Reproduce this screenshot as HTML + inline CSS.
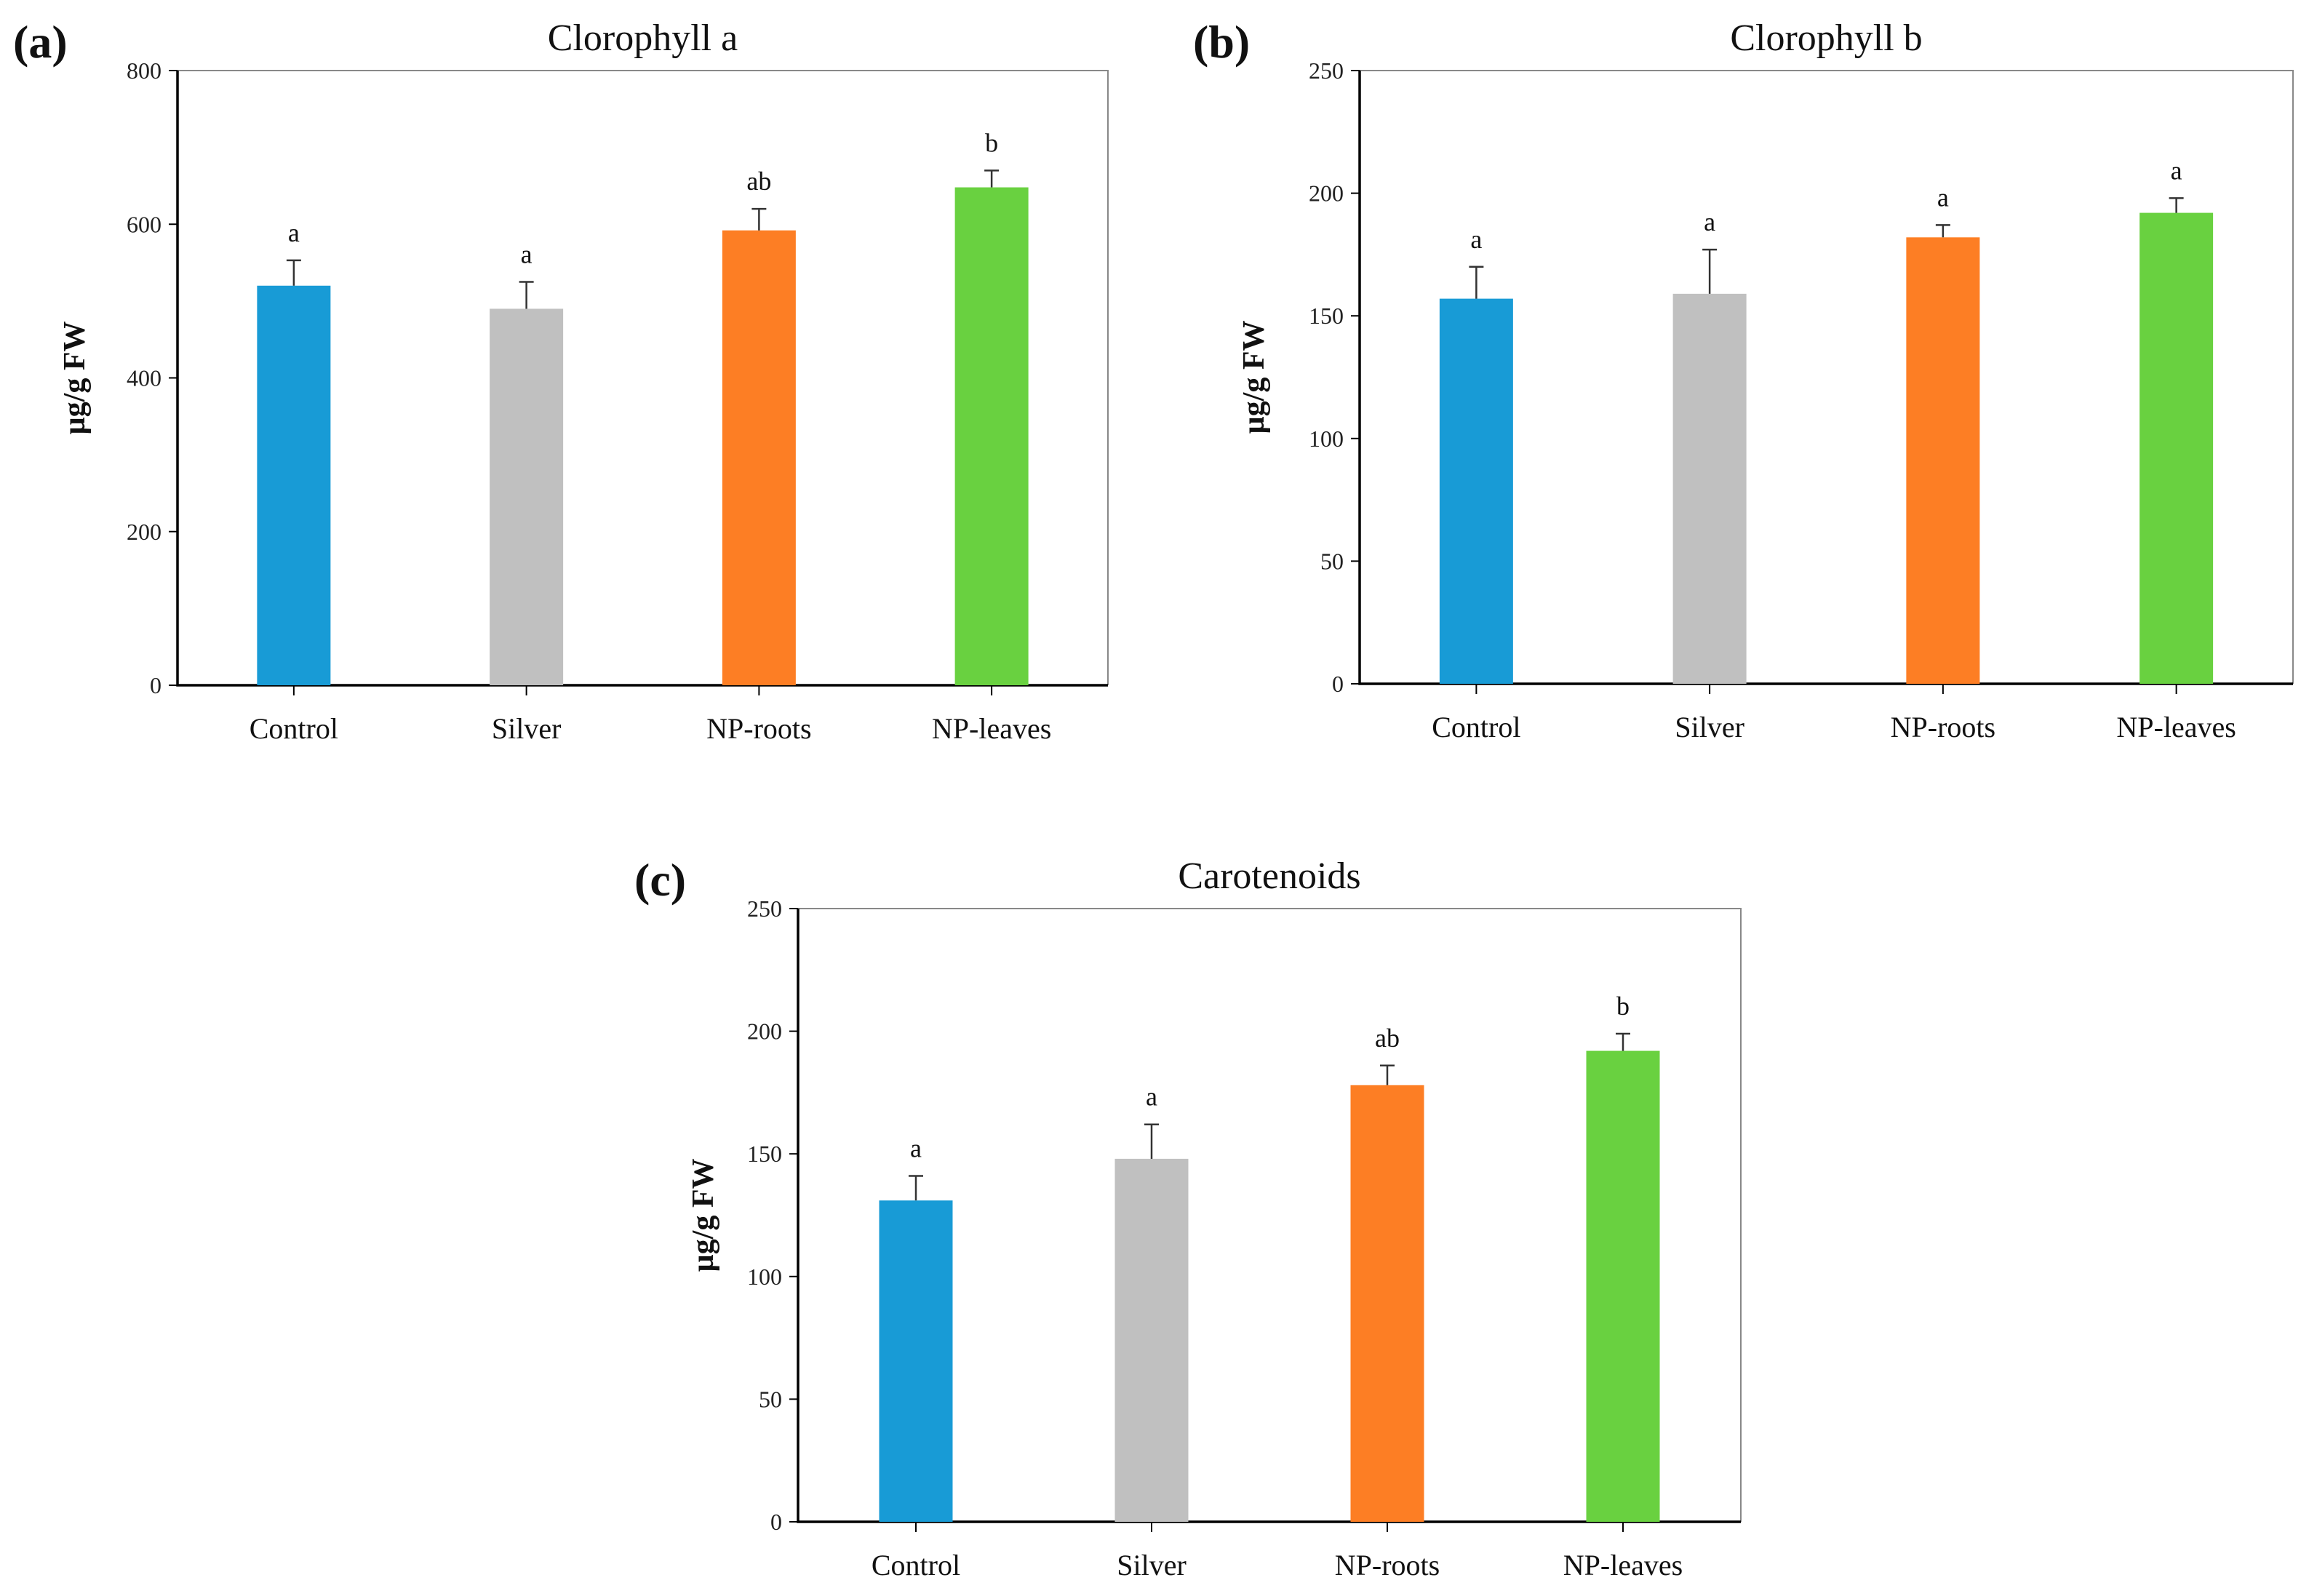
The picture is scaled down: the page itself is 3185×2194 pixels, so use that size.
<!DOCTYPE html>
<html><head><meta charset="utf-8"><style>
html,body{margin:0;padding:0;background:#fff;}
svg{display:block;font-family:"Liberation Serif",serif;}
</style></head><body>
<svg id="fig" width="3185" height="2194" viewBox="0 0 3185 2194" xmlns="http://www.w3.org/2000/svg"></svg>
<script>
const categories = ["Control","Silver","NP-roots","NP-leaves"];
const chlAValues = [520, 490, 592, 648];
const chlAErrors = [33, 35, 28, 22];
const chlALetters = ["a","a","ab","b"];
const chlATicks = [0,200,400,600,800];
const chlBValues = [157, 159, 182, 192];
const chlBErrors = [13, 18, 5, 6];
const chlBLetters = ["a","a","a","a"];
const chlBTicks = [0,50,100,150,200,250];
const carValues = [131, 148, 178, 192];
const carErrors = [10, 14, 8, 7];
const carLetters = ["a","a","ab","b"];
const carTicks = [0,50,100,150,200,250];
const colors = ["#189bd6","#c0c0c0","#fd7e24","#69d140"];

const NS="http://www.w3.org/2000/svg";
const svg=document.getElementById('fig');
function mk(tag,attrs,parent){const e=document.createElementNS(NS,tag);for(const k in attrs)e.setAttribute(k,attrs[k]);(parent||svg).appendChild(e);return e;}

function panel(cfg){
  const g=mk('g',{});
  
  
  const {L,R,T,B}=cfg;
  const ymax=cfg.ticks[cfg.ticks.length-1];
  const y=v=>B-(v/ymax)*(B-T);
  const n=categories.length, step=(R-L)/n;
  const x=i=>L+step*(i+0.5);
  // frame
  const fr=mk('path',{d:`M${L},${T} H${R} V${B}`,fill:'none',stroke:'#888',"stroke-width":2},g);
  
  
  const ax=mk('path',{d:`M${L},${T} V${B} H${R}`,fill:'none',stroke:'#000',"stroke-width":3.5},g);
  
  
  cfg.ticks.forEach(t=>{
    mk('line',{x1:L-12,x2:L,y1:y(t),y2:y(t),stroke:'#000',"stroke-width":2},g);
    const tl=mk('text',{x:L-22,y:y(t)+11,"text-anchor":'end',"font-size":32,fill:'#222'},g);
    tl.textContent=t;
    
    
  });
  categories.forEach((c,i)=>{
    const v=cfg.values[i], e=cfg.errors[i], cx=x(i), bw=101;
    const bar=mk('rect',{x:cx-bw/2,y:y(v),width:bw,height:B-y(v),fill:colors[i]},g);
    
    
    const eb=mk('path',{d:`M${cx},${y(v)} V${y(v+e)} M${cx-10},${y(v+e)} H${cx+10}`,stroke:'#333',"stroke-width":2.5,fill:'none'},g);
    
    
    const lt=mk('text',{x:cx,y:y(v+e)-26,"text-anchor":'middle',"font-size":36,fill:'#111'},g);
    lt.textContent=cfg.letters[i];
    
    
    mk('line',{x1:cx,x2:cx,y1:B,y2:B+14,stroke:'#000',"stroke-width":2},g);
    const cl=mk('text',{x:cx,y:B+73,"text-anchor":'middle',"font-size":40,fill:'#111'},g);
    cl.textContent=c;
    
    
  });
  const ti=mk('text',{x:(L+R)/2,y:T-28,"text-anchor":'middle',"font-size":52,fill:'#111'},g);
  ti.textContent=cfg.title;
  
  
  const pl=mk('text',{x:cfg.labelX,y:T-18,"font-size":64,"font-weight":'bold',fill:'#111'},g);
  pl.textContent=cfg.label;
  
  
  const yt=mk('text',{x:0,y:0,"text-anchor":'middle',"font-size":42,"font-weight":'bold',fill:'#111',transform:`translate(${cfg.yTitleX},${(T+B)/2}) rotate(-90)`},g);
  yt.textContent='µg/g  FW';
  
  
}
panel({name:'chart-chlorophyll-a',L:244,R:1523,T:97,B:942,ticks:chlATicks,values:chlAValues,errors:chlAErrors,letters:chlALetters,title:'Clorophyll a',label:'(a)',labelX:18,yTitleX:116});
panel({name:'chart-chlorophyll-b',L:1869,R:3152,T:97,B:940,ticks:chlBTicks,values:chlBValues,errors:chlBErrors,letters:chlBLetters,title:'Clorophyll b',label:'(b)',labelX:1640,yTitleX:1737});
panel({name:'chart-carotenoids',L:1097,R:2393,T:1249,B:2092,ticks:carTicks,values:carValues,errors:carErrors,letters:carLetters,title:'Carotenoids',label:'(c)',labelX:872,yTitleX:980});
</script>
</body></html>
